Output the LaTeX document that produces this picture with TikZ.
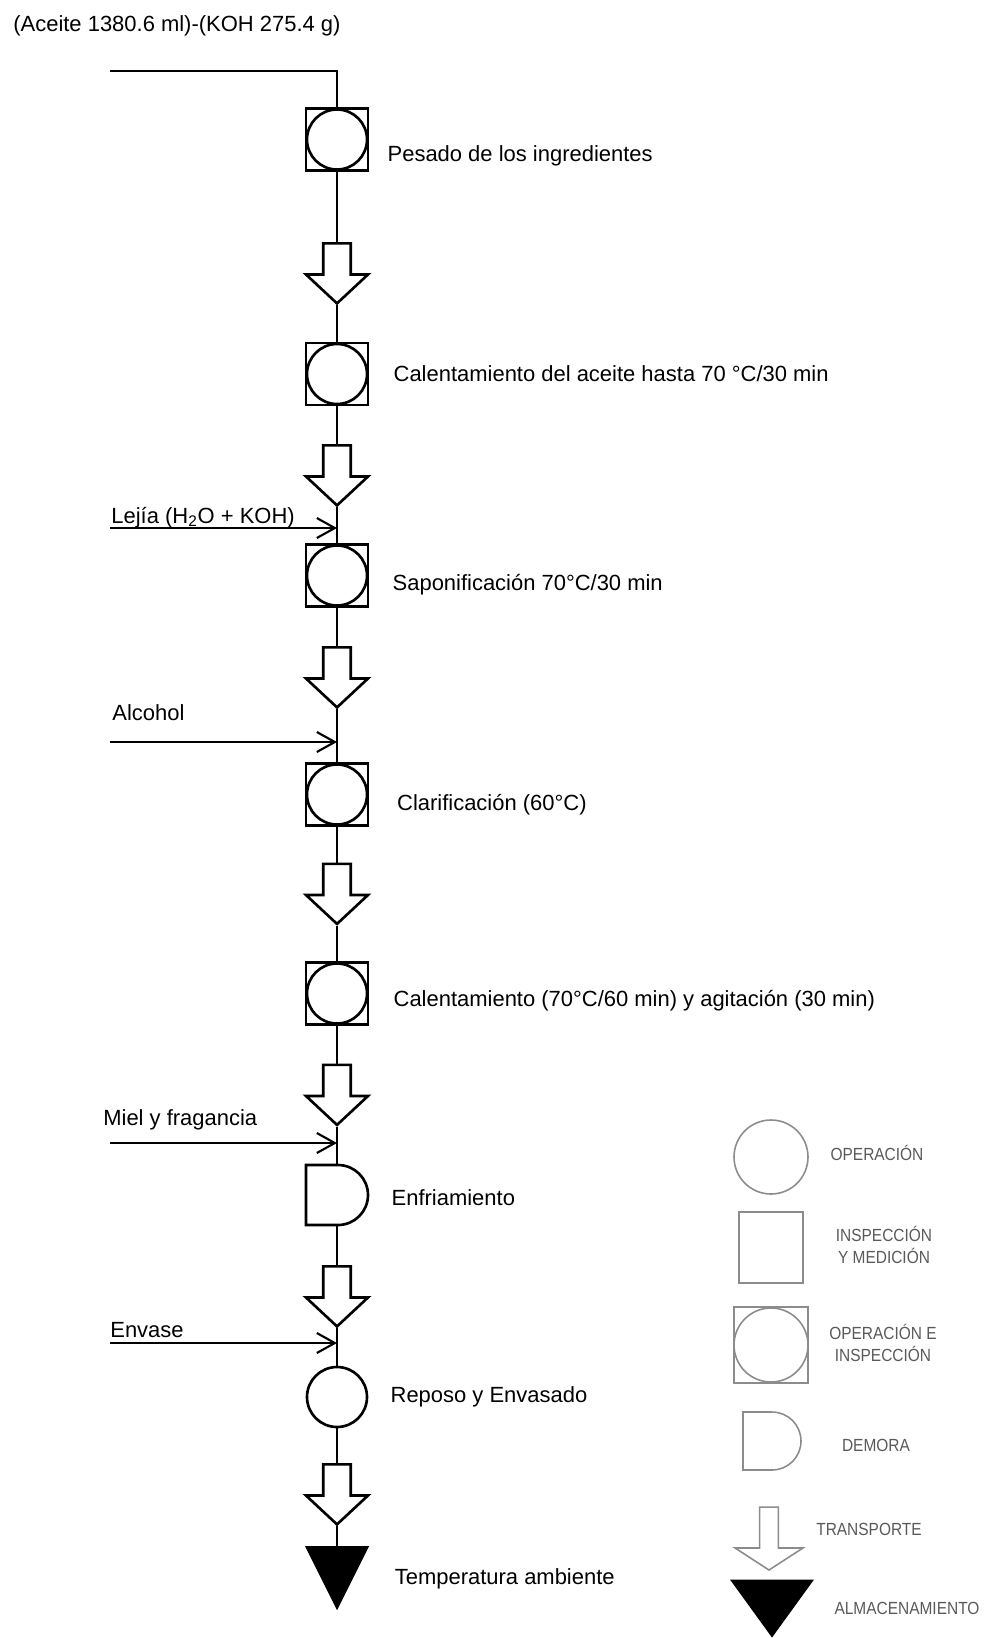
\documentclass[tikz,border=0pt]{standalone}
\usepackage{fontspec}
\setmainfont{Liberation Sans}
\newfontfamily\legendfont[FakeStretch=0.88]{Liberation Sans}
\usetikzlibrary{positioning,shapes.geometric,shapes.arrows,shapes.misc,arrows.meta}

\begin{document}
\begin{tikzpicture}[node distance=0.5cm, font=\fontsize{12.5}{15}\selectfont]
    \tikzset{
        opbox/.style={rectangle, draw, line width=1.5pt,
        minimum size=1.24cm, inner sep=0pt, fill=white,
        path picture={\draw (path picture bounding box.center) circle (#1);}},
        opbox/.default=0.6cm,
        oper/.style={circle, draw, line width=1.5pt, minimum size=1.2cm, inner sep=0pt},
        delay/.style={rounded rectangle, rounded rectangle west arc=none, draw,
        line width=1.5pt, minimum width=1.24cm, minimum height=1.2cm, inner sep=0pt},
        transp/.style={single arrow, draw, line width=1.5pt, shape border rotate=270,
        single arrow head extend=0.31cm, single arrow tip angle=94,
        minimum width=1.24cm, minimum height=1.2cm, inner sep=0.22cm},
        storage/.style={isosceles triangle, isosceles triangle stretches, fill=black,
        shape border rotate=270, minimum width=1.28cm, minimum height=1.28cm, inner sep=0pt},
        flow/.style={line width=0.9pt},
        inarrow/.style={line width=1.2pt, -{Straight Barb[length=3.6mm, width=4mm, line width=1.2pt]}},
        lbl/.style={inner sep=0pt},
        inlbl/.style={anchor=base west, inner sep=0pt},
        lgline/.style={color=black!45, line width=0.9pt},
        legtxt/.style={font=\legendfont\fontsize{10}{12.5}\selectfont, text=black!65,
        align=center, inner sep=0pt}
    }
    \useasboundingbox (0,0) rectangle (20.06,-32.76);

    \node (title) [inlbl] at (0.26,-0.62) {(Aceite 1380.6 ml)-(KOH 275.4 g)};
    \coordinate (oil) at (2.2,-1.42);

    % proceso
    \node (b1) [opbox] at (6.74,-2.79) {};
    \node (a1) [transp] at (6.74,-5.34) {};
    \node (b2) [opbox] at (6.74,-7.48) {};
    \node (a2) [transp] at (6.74,-9.38) {};
    \node (b3) [opbox] at (6.74,-11.51) {};
    \node (a3) [transp] at (6.74,-13.42) {};
    \node (b4) [opbox] at (6.74,-15.89) {};
    \node (a4) [transp] at (6.74,-17.75) {};
    \node (b5) [opbox] at (6.74,-19.87) {};
    \node (a5) [transp] at (6.74,-21.77) {};
    \node (dem) [delay] at (6.74,-23.90) {};
    \node (a6) [transp] at (6.74,-25.80) {};
    \node (rep) [oper] at (6.74,-27.94) {};
    \node (a7) [transp] at (6.74,-29.76) {};
    \node (store) [storage] at (6.74,-31.32) {};

    \node (t1) [lbl, right=0.36cm of b1, yshift=-0.32cm] {Pesado de los ingredientes};
    \node (t2) [lbl, right=0.48cm of b2] {Calentamiento del aceite hasta 70 °C/30 min};
    \node (t3) [lbl, right=0.46cm of b3, yshift=-0.19cm] {Saponificación 70°C/30 min};
    \node (t4) [lbl, right=0.55cm of b4, yshift=-0.2cm] {Clarificación (60°C)};
    \node (t5) [lbl, right=0.48cm of b5, yshift=-0.15cm] {Calentamiento (70°C/60 min) y agitación (30 min)};
    \node (t6) [lbl, right=0.44cm of dem, yshift=-0.06cm] {Enfriamiento};
    \node (t7) [lbl, right=0.44cm of rep] {Reposo y Envasado};
    \node (t8) [lbl, right=0.7cm of store, yshift=-0.26cm] {Temperatura ambiente};

    \draw [flow] (oil) -| (b1.north);
    \foreach \u/\v in {b1/a1, a1/b2, b2/a2, a2/b3, b3/a3, a3/b4, b4/a4,
        a4/b5, b5/a5, a5/dem, dem/a6, a6/rep, rep/a7, a7/store}
        \draw [flow] (\u.south) -- (\v.north);

    % entradas
    \coordinate (lejia) at (2.2,-10.56);
    \coordinate (alco) at (2.2,-14.84);
    \coordinate (miel) at (2.2,-22.86);
    \coordinate (env) at (2.2,-26.86);
    \node (l1) [inlbl] at (2.22,-10.46) {Lejía (H\textsubscript{2}O + KOH)};
    \node (l2) [inlbl] at (2.24,-14.40) {Alcohol};
    \node (l3) [inlbl] at (2.06,-22.50) {Miel y fragancia};
    \node (l4) [inlbl] at (2.2,-26.74) {Envase};
    \draw [inarrow] (lejia) -- (lejia -| b3.north);
    \draw [inarrow] (alco) -- (alco -| b4.north);
    \draw [inarrow] (miel) -- (miel -| dem.north);
    \draw [inarrow] (env) -- (env -| rep.north);

    % leyenda
    \node (lg1) [oper, lgline, minimum size=1.48cm] at (15.42,-23.14) {};
    \node (lg2) [rectangle, draw, lgline, minimum width=1.28cm, minimum height=1.42cm] at (15.42,-24.95) {};
    \node (lg3) [opbox=0.74cm, lgline, fill=white, minimum width=1.48cm, minimum height=1.52cm] at (15.42,-26.90) {};
    \node (lg4) [delay, lgline, minimum width=1.12cm, minimum height=1.16cm] at (15.44,-28.82) {};
    \node (lg5) [transp, lgline, single arrow head extend=0.44cm, single arrow tip angle=114,
        minimum width=1.36cm, minimum height=1.26cm, inner sep=0.15cm] at (15.38,-30.71) {};
    \node (lg6) [storage, minimum width=1.68cm, minimum height=1.16cm] at (15.44,-32.02) {};

    \node (g1) [legtxt] at (17.54,-23.06) {OPERACIÓN};
    \node (g2) [legtxt] at (17.68,-24.90) {INSPECCIÓN\\Y MEDICIÓN};
    \node (g3) [legtxt] at (17.66,-26.86) {OPERACIÓN E\\INSPECCIÓN};
    \node (g4) [legtxt] at (17.52,-28.90) {DEMORA};
    \node (g5) [legtxt] at (17.38,-30.58) {TRANSPORTE};
    \node (g6) [legtxt] at (18.14,-32.16) {ALMACENAMIENTO};
\end{tikzpicture}
\end{document}
